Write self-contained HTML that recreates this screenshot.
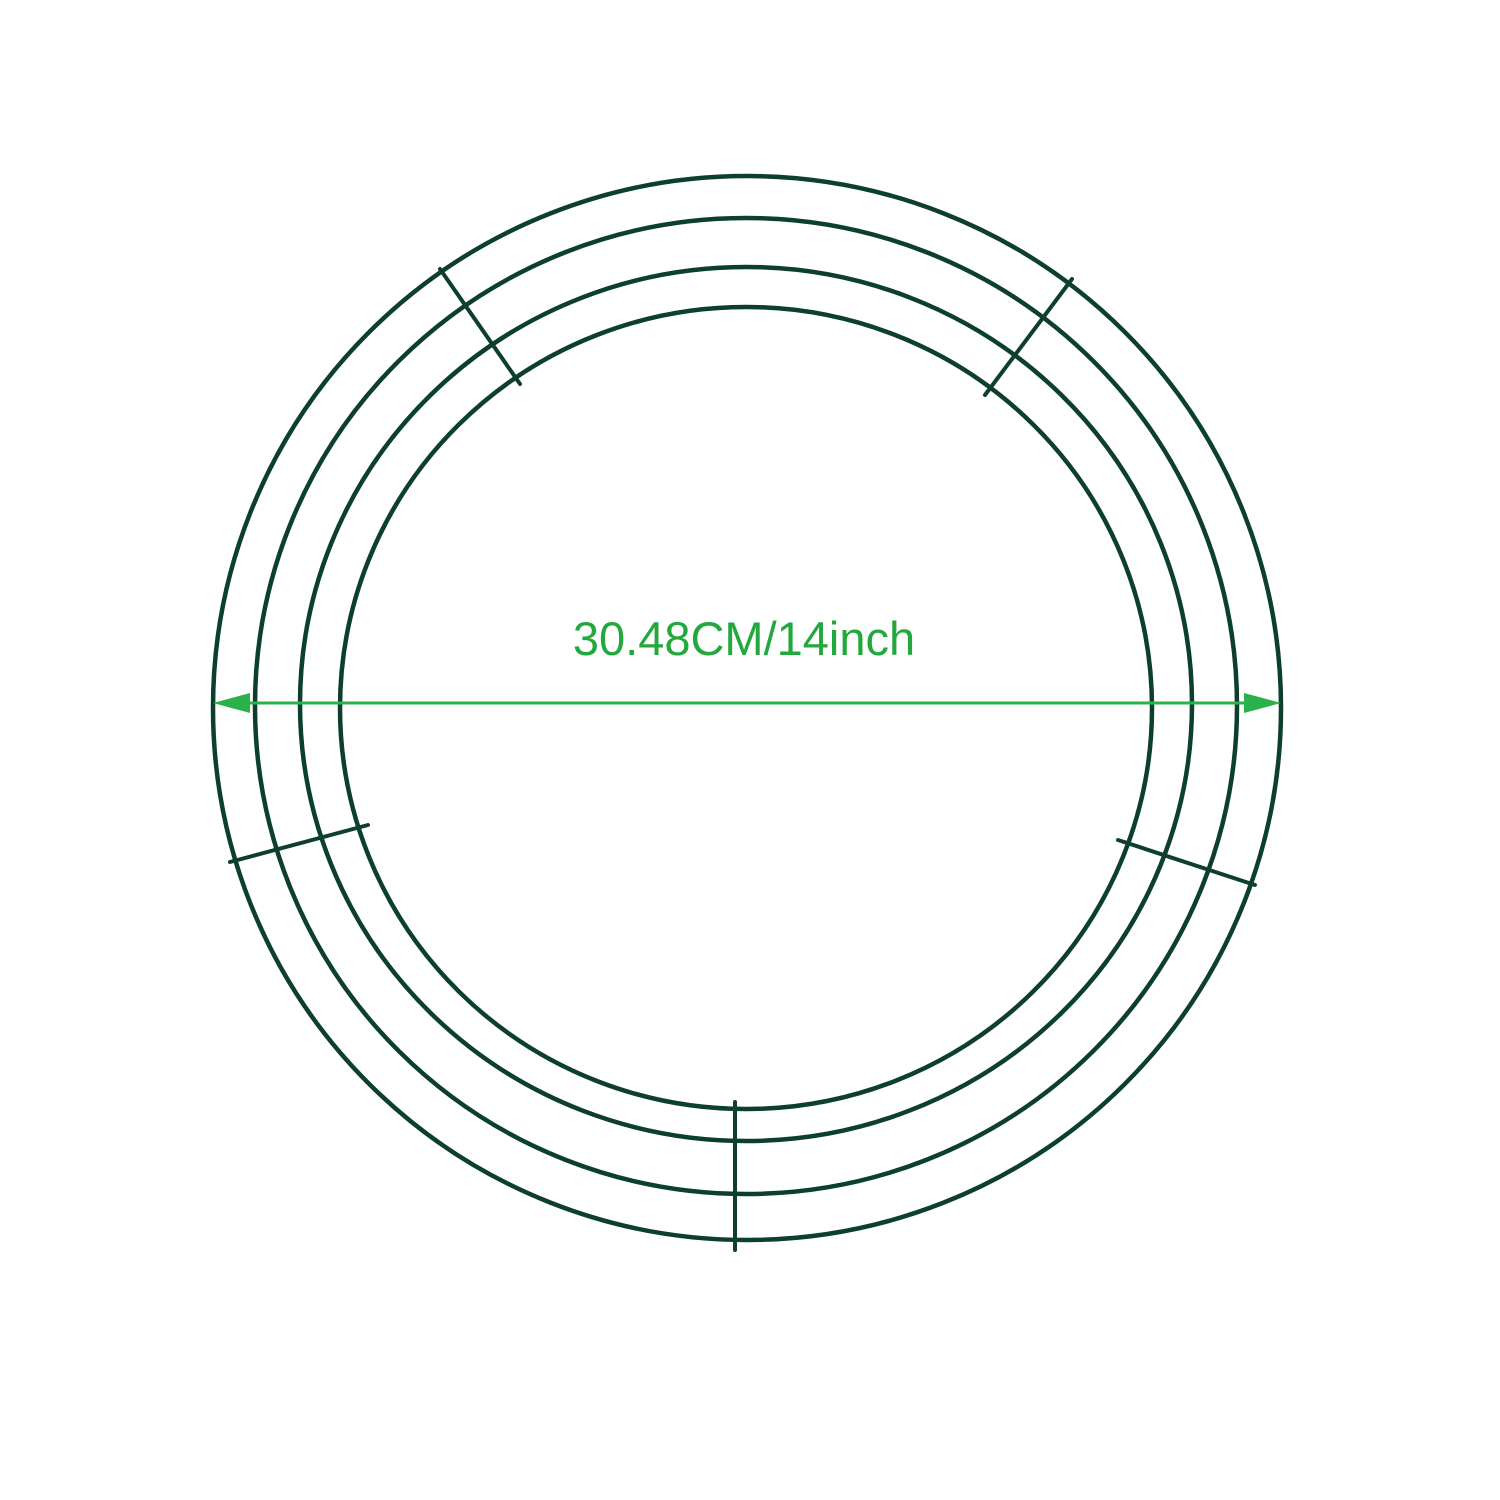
<!DOCTYPE html>
<html><head><meta charset="utf-8"><style>
html,body{margin:0;padding:0;background:#fff;}
svg{display:block;}
</style></head><body>
<svg width="1500" height="1500" viewBox="0 0 1500 1500">
<rect width="1500" height="1500" fill="#fff"/>
<g fill="none" stroke="#0d402c" stroke-width="4.5">
<ellipse cx="747" cy="708" rx="534" ry="532"/>
<ellipse cx="746" cy="706" rx="491" ry="488"/>
<ellipse cx="746" cy="704" rx="446" ry="437"/>
<ellipse cx="746" cy="708" rx="406" ry="401"/>
</g>
<g stroke="#0d402c" stroke-width="4" stroke-linecap="round">
<line x1="440" y1="269" x2="520" y2="384"/>
<line x1="1072" y1="279" x2="985" y2="395"/>
<line x1="230" y1="862" x2="368" y2="825"/>
<line x1="1118" y1="840" x2="1255" y2="885"/>
<line x1="735" y1="1102" x2="735" y2="1250"/>
</g>
<g>
<line x1="225" y1="703" x2="1268" y2="703" stroke="#2bb14a" stroke-width="3"/>
<polygon points="213,703 250,693 250,713" fill="#2bb14a"/>
<polygon points="1281,703 1244,693 1244,713" fill="#2bb14a"/>
</g>
<text x="744" y="655" text-anchor="middle" font-family="Liberation Sans, sans-serif" font-size="47" fill="#22a83c">30.48CM/14inch</text>
</svg>
</body></html>
